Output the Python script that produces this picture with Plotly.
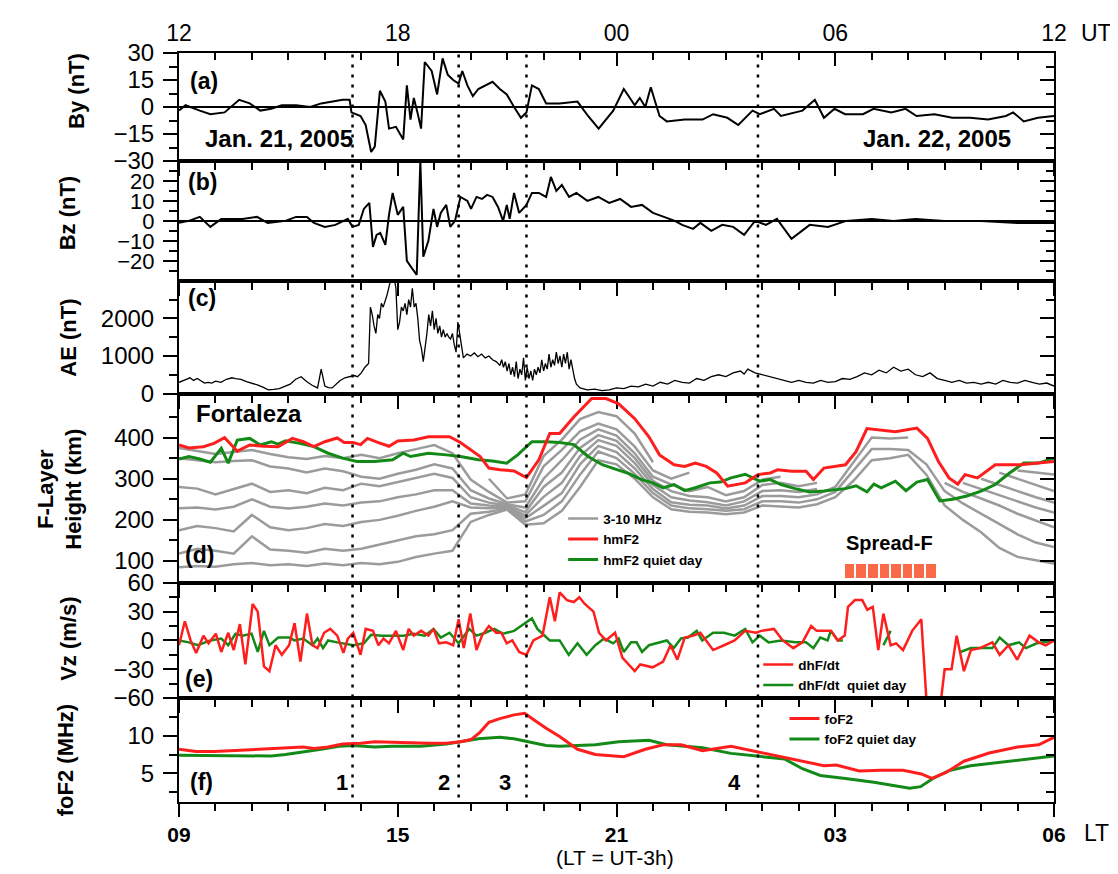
import plotly.graph_objects as go
from plotly.subplots import make_subplots

# ---------------- data (time in hours after 12 UT, Jan 21 2005) ----------------
BY_T = [0.00, 0.18, 0.57, 0.86, 1.25, 1.65, 1.94, 2.23, 2.53, 2.82,
        3.21, 3.60, 3.90, 4.19, 4.49, 4.68, 4.73, 4.98, 5.12, 5.27,
        5.37, 5.51, 5.66, 5.76, 5.95, 6.15, 6.25, 6.35, 6.44, 6.54,
        6.64, 6.74, 6.93, 7.08, 7.23, 7.37, 7.52, 7.67, 7.77, 7.91,
        8.06, 8.21, 8.40, 8.60, 8.80, 8.99, 9.19, 9.38, 9.53, 9.68,
        9.87, 10.07, 10.44, 10.93, 11.22, 11.51, 11.91, 12.20, 12.50, 12.64,
        12.79, 12.94, 13.18, 13.38, 13.87, 14.36, 14.65, 15.04, 15.34, 15.73,
        15.93, 16.32, 16.51, 17.10, 17.44, 17.69, 17.98, 18.27, 18.76, 19.05,
        19.54, 19.93, 20.23, 20.72, 21.21, 21.70, 22.19, 22.68, 22.88, 23.17,
        23.56, 24.00]
BY = [-2, 1, -2, -4, -3, 4, 2, -2, -1, 1,
      1, 0, 2, 3, 4, 4, -3, -5, -10, -25,
      -22, 9, 3, -12, -11, -18, 12, -7, 5, -3,
      -12, 25, 20, 7, 27, 18, 15, 13, 20, 12,
      6, 10, 12, 14, 10, 7, 0, -6, -3, 12,
      10, 2, 2, 3, -5, -12, -2, 10, 1, 5,
      0, 11, -5, -8, -7, -7, -4, -6, -10, -2,
      -4, -1, -5, -2, 4, -6, -1, -4, -4, -1,
      -3, -1, -5, -4, -6, -6, -7, -5, -3, -8,
      -6, -5]

BZ_T = [0.00, 0.27, 0.57, 0.86, 1.16, 1.45, 1.74, 2.14, 2.43, 2.92,
        3.21, 3.51, 3.70, 4.00, 4.29, 4.63, 4.76, 4.93, 5.07, 5.22,
        5.32, 5.42, 5.52, 5.66, 5.76, 5.86, 6.00, 6.15, 6.25, 6.40,
        6.52, 6.62, 6.70, 6.84, 6.98, 7.08, 7.18, 7.33, 7.44, 7.57,
        7.72, 7.91, 8.01, 8.16, 8.31, 8.45, 8.60, 8.75, 8.89, 8.99,
        9.07, 9.19, 9.33, 9.53, 9.68, 9.87, 10.07, 10.20, 10.35, 10.50,
        10.70, 10.90, 11.20, 11.50, 11.80, 12.10, 12.40, 12.70, 13.00, 13.30,
        13.60, 13.80, 14.10, 14.30, 14.60, 14.90, 15.20, 15.50, 15.80, 16.10,
        16.40, 16.80, 17.30, 17.80, 18.30, 19.00, 19.60, 20.20, 21.00, 22.00,
        23.00, 24.00]
BZ = [-1, 0, 2, -3, 1, 1, 1, 2, -1, 0,
      2, 2, -1, -3, -2, 1, -3, -2, 6, 9,
      -13, -7, -6, -12, 3, 14, 3, 7, -20, -24,
      -27, 30, -18, -10, 6, -3, 4, 8, -3, 0,
      12, 10, 6, 12, 11, 13, 12, 7, 0, 8,
      1, 14, 4, 8, 14, 14, 12, 22, 15, 18,
      12, 14, 10, 12, 9, 11, 7, 8, 4, 2,
      0, -2, -4, -1, -5, -2, -3, -7, 0, -2,
      1, -9, -2, -3, 0, 1, 0, 1, 0, 0,
      -1, -1]

AE_T = [0.00, 0.10, 0.20, 0.30, 0.40, 0.50, 0.60, 0.70, 0.80, 0.90,
        1.00, 1.15, 1.30, 1.45, 1.55, 1.70, 1.85, 2.00, 2.15, 2.30,
        2.45, 2.60, 2.75, 2.90, 3.05, 3.20, 3.35, 3.50, 3.65, 3.80,
        3.90, 4.00, 4.10, 4.20, 4.30, 4.35, 4.42, 4.55, 4.70, 4.80,
        4.90, 5.00, 5.10, 5.20, 5.25, 5.30, 5.35, 5.40, 5.45, 5.50,
        5.55, 5.60, 5.70, 5.80, 5.90, 5.95, 6.00, 6.05, 6.10, 6.15,
        6.20, 6.25, 6.30, 6.35, 6.40, 6.45, 6.50, 6.55, 6.60, 6.65,
        6.70, 6.75, 6.80, 6.85, 6.90, 6.95, 7.00, 7.05, 7.10, 7.15,
        7.20, 7.25, 7.30, 7.35, 7.40, 7.45, 7.50, 7.55, 7.60, 7.65,
        7.70, 7.75, 7.80, 7.90, 8.00, 8.10, 8.20, 8.30, 8.40, 8.50,
        8.60, 8.70, 8.80, 8.85, 8.90, 8.95, 9.00, 9.05, 9.10, 9.15,
        9.20, 9.25, 9.30, 9.35, 9.40, 9.45, 9.50, 9.55, 9.60, 9.65,
        9.70, 9.75, 9.80, 9.85, 9.90, 9.95, 10.00, 10.05, 10.10, 10.15,
        10.20, 10.25, 10.30, 10.35, 10.40, 10.45, 10.50, 10.55, 10.60, 10.65,
        10.70, 10.75, 10.80, 10.85, 10.90, 11.00, 11.20, 11.40, 11.60, 11.80,
        12.00, 12.20, 12.40, 12.60, 12.80, 13.00, 13.20, 13.40, 13.60, 13.80,
        14.00, 14.20, 14.40, 14.60, 14.80, 15.00, 15.20, 15.40, 15.50, 15.60,
        15.80, 16.00, 16.20, 16.40, 16.60, 16.80, 17.00, 17.20, 17.40, 17.60,
        17.80, 18.00, 18.20, 18.40, 18.60, 18.80, 19.00, 19.20, 19.40, 19.60,
        19.80, 20.00, 20.20, 20.40, 20.60, 20.80, 21.00, 21.20, 21.40, 21.60,
        21.80, 22.00, 22.20, 22.40, 22.60, 22.80, 23.00, 23.20, 23.40, 23.60,
        23.80, 24.00]
AE = [300, 330, 380, 420, 350, 400, 330, 280, 300, 280,
      330, 300, 380, 420, 400, 380, 320, 280, 230, 170,
      100, 110, 130, 190, 250, 380, 450, 320, 220, 150,
      650, 200, 160, 150, 250, 300, 350, 420, 450, 480,
      450, 550, 700, 800, 2300, 2100, 1800, 1600, 2100, 2000,
      2400, 2300, 2600, 3000, 3100, 2800, 1700, 1900, 2300, 2200,
      2400, 2100, 2500, 2300, 2800, 2300, 2400, 2000, 1400, 1200,
      850, 1200, 1600, 2100, 1800, 2200, 1700, 2000, 1600, 1800,
      1500, 1700, 1500, 1600, 1500, 1450, 1600, 1300, 1100, 1900,
      1600, 1200, 950, 1050, 1000, 1080, 980, 1050, 950, 1000,
      900, 850, 750, 900, 700, 850, 600, 800, 500, 700,
      450, 850, 400, 650, 500, 950, 350, 700, 400, 600,
      350, 650, 500, 700, 550, 900, 600, 800, 650, 1050,
      700, 900, 750, 1100, 800, 1000, 700, 1050, 800, 1100,
      650, 900, 600, 400, 250, 150, 100, 120, 80, 100,
      150, 130, 200, 180, 250, 200, 300, 250, 350, 300,
      280, 400, 350, 450, 500, 450, 550, 600, 520, 650,
      550, 500, 450, 400, 350, 300, 350, 300, 280, 350,
      300, 320, 400, 380, 450, 550, 500, 620, 550, 700,
      600, 650, 500, 450, 550, 400, 350, 300, 350, 280,
      300, 250, 300, 250, 350, 300, 280, 350, 300, 250,
      280, 200]

# isofrequency heights (3..10 MHz), half-hour grid
G_T = [0, 0.5, 1, 1.5, 2, 2.5, 3, 3.5, 4, 4.5,
       5, 5.5, 6, 6.5, 7, 7.5, 8, 8.5, 9, 9.5,
       10, 10.5, 11, 11.5, 12, 12.5, 13, 13.5, 14, 14.5,
       15, 15.5, 16, 16.5, 17, 17.5, 18, 18.5, 19, 19.5,
       20, 20.5, 21, 21.5, 22, 22.5, 23, 23.5, 24]
G3 = [85, 88, 86, 92, 95, 90, 92, 88, 94, 90,
      95, 92, 98, 110, 118, 125, 195, 212, 225, 188,
      192, 222, 280, 345, 335, 300, 255, 226, 220, 218,
      214, 218, 235, 232, 230, 238, 255, 295, 345, 350,
      358, 310, 235, 200, 170, 132, 110, 102, 94]
G4 = [118, 130, 125, 118, 160, 128, 125, 120, 130, 125,
      130, 140, 150, 160, 165, 175, 215, 220, 228, 196,
      212, 245, 310, 366, 350, 312, 265, 235, 228, 226,
      222, 226, 245, 245, 242, 250, 268, 320, 372, 372,
      370, 335, 270, 240, 215, 190, 165, 145, 134]
G5 = [175, 185, 180, 172, 212, 182, 175, 180, 190, 185,
      195, 200, 210, 222, 232, 245, 230, 228, 230, 204,
      234, 265, 335, 380, 365, 325, 275, 243, 237, 235,
      228, 235, 258, 258, 255, 262, 280, 340, 400, 398,
      400, None, 290, 268, 252, 235, 215, 198, 182]
G6 = [228, 230, 225, 232, 250, 232, 228, 232, 240, 235,
      242, 245, 255, 262, 272, 272, 240, 235, 232, 211,
      256, 290, 355, 394, 380, 338, 285, 255, 247, 243,
      235, 245, 270, 272, 268, 275, None, None, None, None,
      None, None, None, 290, 275, 260, 245, 230, 218]
G7 = [280, 276, 262, 275, 288, 268, 272, 265, 278, 272,
      288, 282, 292, 302, 312, 302, 255, 242, 235, 219,
      280, 315, 375, 406, 392, 350, 295, 270, 258, 255,
      245, 255, 285, 290, 282, 290, None, None, None, None,
      None, None, None, None, 300, 285, 270, 255, 242]
G8 = [350, 345, 340, 343, 345, 330, 325, 315, 325, 318,
      305, 300, 312, 322, 335, 325, 272, 252, 238, 230,
      300, 345, 395, 420, 405, 362, 305, 286, 270, 280,
      260, 270, 298, 305, None, None, None, None, None, None,
      None, None, None, None, None, 315, 300, 285, 270]
G9 = [375, 368, 360, 365, 370, 360, 352, 348, 355, 350,
      358, 350, 362, 372, 382, 362, 298, 268, 242, 245,
      330, 370, 415, 434, 420, 378, 320, 300, 315, None,
      None, None, None, None, None, None, None, None, None, None,
      None, None, None, None, None, None, 320, 315, 310]
G10 = [None, None, None, None, None, None, None, None, None, None,
       None, None, None, None, None, None, None, 300, 252, 262,
       355, 395, 445, 462, 452, 410, 340, None, None, None,
       None, None, None, None, None, None, None, None, None, None,
       None, None, None, None, None, None, None, None, None]

HM_T = [0.00, 0.27, 0.67, 0.96, 1.25, 1.60, 1.94, 2.33, 2.72, 3.11,
        3.41, 3.70, 4.00, 4.34, 4.53, 4.78, 4.98, 5.17, 5.47, 5.76,
        6.00, 6.44, 6.84, 7.42, 7.72, 8.01, 8.26, 8.50, 8.80, 9.19,
        9.53, 9.87, 10.17, 10.44, 10.83, 11.32, 11.71, 12.06, 12.50, 12.89,
        13.18, 13.58, 13.87, 14.16, 14.46, 14.75, 15.05, 15.53, 15.88, 16.22,
        16.42, 16.81, 17.20, 17.40, 17.69, 18.28, 18.57, 18.87, 19.26, 19.65,
        20.24, 20.53, 20.83, 21.12, 21.36, 21.56, 21.90, 22.39, 23.08, 23.57,
        24.00]
HM = [382, 375, 378, 386, 400, 367, 382, 379, 378, 398,
      390, 378, 390, 399, 388, 388, 383, 398, 388, 379,
      392, 394, 402, 402, 388, 370, 354, 326, 322, 319,
      303, 346, 410, 410, 450, 495, 495, 482, 446, 402,
      358, 334, 330, 338, 330, 314, 282, 290, 310, 314,
      322, 318, 318, 298, 326, 334, 366, 422, 418, 414,
      423, 398, 342, 302, 287, 310, 302, 334, 334, 338,
      342]

HQ_T = [0.00, 0.27, 0.57, 0.86, 1.16, 1.35, 1.60, 1.94, 2.23, 2.53,
        2.72, 2.92, 3.31, 3.70, 4.09, 4.49, 4.88, 5.37, 5.86, 6.15,
        6.35, 6.84, 7.33, 7.72, 8.21, 8.60, 8.99, 9.29, 9.68, 10.07,
        10.44, 10.83, 11.22, 11.61, 12.01, 12.30, 12.69, 12.99, 13.28, 13.58,
        13.87, 14.16, 14.56, 14.85, 15.14, 15.53, 15.93, 16.22, 16.51, 16.90,
        17.30, 17.69, 18.28, 18.57, 18.87, 19.06, 19.26, 19.65, 19.94, 20.24,
        20.53, 20.87, 21.22, 21.61, 22.00, 22.39, 22.78, 23.17, 23.57, 24.00]
HQ = [348, 354, 348, 340, 374, 338, 394, 398, 382, 390,
      384, 392, 386, 378, 362, 350, 342, 342, 346, 362,
      354, 362, 358, 354, 346, 343, 338, 358, 390, 390,
      388, 383, 354, 334, 322, 314, 298, 290, 278, 286,
      271, 278, 290, 292, 302, 311, 294, 298, 286, 276,
      268, 270, 276, 283, 268, 287, 278, 294, 271, 292,
      298, 246, 250, 258, 270, 286, 314, 338, 338, 350]

SF_T = [18.39, 18.71, 19.03, 19.35, 19.66, 19.98, 20.30, 20.62]
SF_H = [33, 33, 33, 33, 33, 33, 33, 33]
SF_BASE = 60

VZ_T = [0.00, 0.16, 0.32, 0.47, 0.67, 0.81, 1.01, 1.16, 1.35, 1.50,
        1.67, 1.82, 2.02, 2.16, 2.33, 2.48, 2.65, 2.82, 3.02, 3.17,
        3.33, 3.51, 3.66, 3.80, 3.98, 4.15, 4.34, 4.51, 4.63, 4.78,
        4.98, 5.12, 5.32, 5.47, 5.61, 5.76, 5.95, 6.15, 6.30, 6.44,
        6.64, 6.84, 6.98, 7.13, 7.33, 7.52, 7.67, 7.81, 7.99, 8.16,
        8.31, 8.50, 8.70, 8.84, 8.99, 9.14, 9.33, 9.53, 9.72, 9.97,
        10.17, 10.31, 10.44, 10.64, 10.83, 10.98, 11.13, 11.37, 11.52, 11.71,
        11.96, 12.16, 12.50, 12.65, 12.99, 13.28, 13.48, 13.67, 13.87, 14.11,
        14.30, 14.65, 14.95, 15.24, 15.53, 15.83, 15.97, 16.32, 16.56, 16.85,
        17.10, 17.34, 17.49, 17.88, 18.07, 18.26, 18.35, 18.54, 18.74, 18.88,
        19.03, 19.18, 19.32, 19.52, 19.67, 19.86, 20.11, 20.36, 20.60, 20.72,
        21.00, 21.19, 21.33, 21.53, 21.72, 21.97, 22.31, 22.51, 22.75, 22.99,
        23.33, 23.58, 23.77, 24.00]
VZ = [-5, 20, 0, -13, 5, -3, 7, -12, 8, -10,
      17, -25, 38, 30, -27, -32, -5, -15, -5, 18,
      -22, 28, -5, -8, 8, 12, 5, -13, 2, 8,
      -15, 12, 10, -5, 2, -3, 10, -10, 12, 5,
      10, 5, 12, -3, -2, -5, 22, -8, 28, -10,
      5, 15, 8, 8, -3, 0, -12, -15, 0, 5,
      45, 20, 50, 42, 40, 45, 38, 30, 8, 0,
      8, -18, -32, -25, -28, -22, -5, -20, 3, 5,
      8, -10, -5, 0, 10, 8, 10, 12, 0, -8,
      -2, 15, 10, 10, 0, 5, 35, 42, 42, 32,
      35, -10, 28, -5, -3, -10, 10, 22, -120, -120,
      -30, -30, 5, -32, -10, -8, -2, -15, -5, -20,
      5, -2, -5, 0]

VZQ_T = [0.00, 0.27, 0.52, 0.86, 1.16, 1.35, 1.55, 1.74, 1.99, 2.16,
         2.33, 2.48, 2.72, 3.02, 3.17, 3.41, 3.66, 3.80, 3.95, 4.09,
         4.34, 4.49, 4.78, 5.07, 5.27, 5.56, 5.86, 6.15, 6.44, 6.74,
         6.98, 7.18, 7.42, 7.67, 7.96, 8.16, 8.40, 8.65, 8.89, 9.19,
         9.38, 9.68, 9.83, 10.17, 10.44, 10.69, 10.93, 11.18, 11.42, 11.66,
         11.91, 12.06, 12.20, 12.40, 12.55, 12.70, 12.89, 13.09, 13.38, 13.57,
         13.77, 13.96, 14.20, 14.35, 14.65, 14.95, 15.24, 15.53, 15.73, 15.93,
         16.17, 16.51, 16.90, 17.20, 17.40, 17.59, 17.79, 17.88, 18.07, 18.21,
         18.30, 19.32, 19.52, 19.60, 21.43, 21.72, 22.31, 22.51, 22.75, 23.04,
         23.23, 23.53, 24.00]
VZQ = [0, -2, -5, 0, 2, -5, 7, 5, 7, -12,
       10, -5, 3, 3, 0, 2, -5, 2, -8, 0,
       -2, -3, -5, -3, 6, 5, 5, 5, 7, 5,
       12, 3, 8, -3, 12, 5, 8, 12, 7, 10,
       15, 23, 12, 0, 0, -15, -3, -15, -5, 2,
       -3, 2, -12, -2, -2, -12, -5, -3, 0, -8,
       2, 3, 10, 0, 8, 8, 5, 12, -2, 5,
       -2, 0, -2, -2, -8, 3, 0, 10, 0, 0,
       None, -5, 10, None, -12, -8, -8, 3, -5, -2,
       -8, -3, 0]

F_T = [0.00, 0.47, 0.96, 1.45, 1.94, 2.43, 2.92, 3.41, 3.70, 4.09,
       4.49, 4.98, 5.37, 5.86, 6.35, 6.84, 7.33, 7.72, 8.01, 8.26,
       8.50, 8.80, 9.19, 9.48, 9.77, 10.07, 10.44, 10.93, 11.42, 12.20,
       12.79, 13.28, 13.77, 14.36, 15.14, 15.73, 16.32, 17.10, 17.69, 18.03,
       18.66, 19.25, 19.86, 20.36, 20.65, 21.04, 21.53, 22.22, 23.00, 23.58,
       24.00]
F = [8.2, 7.9, 7.9, 8.0, 8.1, 8.2, 8.4, 8.5, 8.3, 8.5,
     8.9, 9.0, 9.2, 9.1, 9.1, 9.0, 9.0, 9.2, 9.5, 10.5,
     11.8, 12.3, 12.8, 13.0, 12.0, 11.0, 9.9, 8.2, 7.5, 7.2,
     8.2, 8.8, 8.8, 8.0, 8.6, 8.0, 7.4, 6.6, 6.0, 6.1,
     5.3, 5.4, 5.4, 4.9, 4.3, 5.1, 6.6, 7.7, 8.5, 8.8,
     9.8]

FQ_T = [0.00, 0.96, 1.94, 2.53, 2.92, 3.41, 3.90, 4.39, 4.78, 5.37,
        5.86, 6.64, 7.33, 7.72, 8.21, 8.80, 9.19, 9.58, 10.07, 10.44,
        11.42, 12.06, 12.89, 13.38, 14.36, 15.14, 15.88, 16.61, 17.10, 17.59,
        18.28, 19.06, 20.04, 20.34, 20.68, 21.12, 21.71, 22.39, 23.17, 24.00]
FQ = [7.4, 7.35, 7.3, 7.3, 7.5, 7.8, 8.2, 8.6, 8.7, 8.5,
      8.6, 8.6, 8.9, 9.2, 9.6, 9.8, 9.6, 9.2, 8.7, 8.6,
      8.8, 9.2, 9.4, 8.8, 8.4, 7.65, 7.3, 6.9, 5.6, 4.7,
      4.3, 3.8, 3.0, 3.2, 4.3, 5.35, 6.0, 6.4, 6.9, 7.3]

DOTTED_T = [4.76, 7.67, 9.53, 15.88]
EVENT_LABELS = ["1", "2", "3", "4"]
EVENT_LABEL_T = [4.47, 7.28, 8.94, 15.24]

X_MAJOR = [0, 6, 12, 18, 24]
X_MINOR = [h for h in range(25) if h % 6 != 0]
UT_LABELS = ["12", "18", "00", "06", "12"]
LT_LABELS = ["09", "15", "21", "03", "06"]

# ---------------- style ----------------
FONT = "Liberation Sans"
RED = "#FF1E1E"
GREEN = "#138A17"
GRAY = "#9B9B9B"
SFCOL = "#FA6A48"

# page plot-area (the html body adds an 8 px offset)
PX_L, PX_R, PX_T, PX_B = 179.3, 1054.3, 43.3, 802.0
PW, PH = PX_R - PX_L, PX_B - PX_T

def px2paper_x(x):
    return (x - PX_L) / PW

def px2paper_y(y):
    return (PX_B - y) / PH

fig = make_subplots(rows=6, cols=1, shared_xaxes=True, vertical_spacing=0)

fig.add_trace(go.Scatter(x=BY_T, y=BY, mode="lines", line=dict(color="black", width=2),
                         showlegend=False, hoverinfo="skip"), row=1, col=1)
fig.add_trace(go.Scatter(x=BZ_T, y=BZ, mode="lines", line=dict(color="black", width=2),
                         showlegend=False, hoverinfo="skip"), row=2, col=1)
fig.add_trace(go.Scatter(x=AE_T, y=AE, mode="lines", line=dict(color="black", width=1.3),
                         showlegend=False, hoverinfo="skip"), row=3, col=1)

for i, g in enumerate([G3, G4, G5, G6, G7, G8, G9, G10]):
    fig.add_trace(go.Scatter(x=G_T, y=g, mode="lines", line=dict(color=GRAY, width=2.5),
                             name="<b>3-10 MHz</b>", showlegend=(i == 0), legend="legend",
                             legendrank=1, connectgaps=False, hoverinfo="skip"), row=4, col=1)
fig.add_trace(go.Bar(x=SF_T, y=SF_H, base=SF_BASE, width=0.27, marker=dict(color=SFCOL, line=dict(width=0)),
                     showlegend=False, hoverinfo="skip"), row=4, col=1)
fig.add_trace(go.Scatter(x=HQ_T, y=HQ, mode="lines", line=dict(color=GREEN, width=3),
                         name="<b>hmF2 quiet day</b>", legend="legend", legendrank=3), row=4, col=1)
fig.add_trace(go.Scatter(x=HM_T, y=HM, mode="lines", line=dict(color=RED, width=3),
                         name="<b>hmF2</b>", legend="legend", legendrank=2), row=4, col=1)

fig.add_trace(go.Scatter(x=VZQ_T, y=VZQ, mode="lines", line=dict(color=GREEN, width=2.5),
                         name="<b>dhF/dt  quiet day</b>", legend="legend2", legendrank=2,
                         connectgaps=False), row=5, col=1)
fig.add_trace(go.Scatter(x=VZ_T, y=VZ, mode="lines", line=dict(color=RED, width=2.5),
                         name="<b>dhF/dt</b>", legend="legend2", legendrank=1), row=5, col=1)

fig.add_trace(go.Scatter(x=FQ_T, y=FQ, mode="lines", line=dict(color=GREEN, width=3),
                         name="<b>foF2 quiet day</b>", legend="legend3", legendrank=2), row=6, col=1)
fig.add_trace(go.Scatter(x=F_T, y=F, mode="lines", line=dict(color=RED, width=3),
                         name="<b>foF2</b>", legend="legend3", legendrank=1), row=6, col=1)

# ---------------- axes ----------------
DOMS = [[0.8558, 1.0], [0.6959, 0.8558], [0.5453, 0.6959],
        [0.2926, 0.5453], [0.1388, 0.2926], [0.0, 0.1388]]
YR = [[-30, 30], [-30, 30], [0, 3000], [47, 507], [-60, 60], [1.15, 15.05]]
YMAJ = [[-30, -15, 0, 15, 30], [-20, -10, 0, 10, 20], [0, 1000, 2000],
        [100, 200, 300, 400], [-60, -30, 0, 30, 60], [5, 10]]
YMIN = [[-22.5, -7.5, 7.5, 22.5], [-25, -15, -5, 5, 15, 25], [500, 1500, 2500],
        [150, 250, 350, 450], [-45, -15, 15, 45], [2.5, 7.5, 12.5]]
YFONT = [24, 22, 24, 24, 24, 24]

layout = {}
for k in range(1, 7):
    xs = "xaxis" if k == 1 else f"xaxis{k}"
    ys = "yaxis" if k == 1 else f"yaxis{k}"
    layout[xs] = dict(range=[0, 24], showline=True, linewidth=2, linecolor="black", mirror=True,
                      ticks="outside", tickmode="array", tickvals=X_MAJOR, ticklen=13, tickwidth=2,
                      tickcolor="black", showgrid=False, zeroline=False,
                      minor=dict(tickmode="array", tickvals=X_MINOR, ticklen=7, tickwidth=2,
                                 ticks="outside", tickcolor="black", showgrid=False),
                      showticklabels=(k == 6))
    layout[ys] = dict(domain=DOMS[k - 1], range=YR[k - 1], showline=True, linewidth=2,
                      linecolor="black", mirror=True, ticks="outside", tickmode="array",
                      tickvals=YMAJ[k - 1], ticklen=14, tickwidth=2, tickcolor="black",
                      showgrid=False, zeroline=(k in (1, 2)), zerolinecolor="black",
                      zerolinewidth=2, ticklabelstandoff=4,
                      tickfont=dict(family=FONT, size=YFONT[k - 1], color="black"),
                      minor=dict(tickmode="array", tickvals=YMIN[k - 1], ticklen=8, tickwidth=2,
                                 ticks="outside", tickcolor="black", showgrid=False))
    # right-hand inward ticks
    layout[f"yaxis{6 + k}"] = dict(overlaying=("y" if k == 1 else f"y{k}"), side="right",
                                   anchor=("x" if k == 1 else f"x{k}"), range=YR[k - 1],
                                   ticks="inside", tickmode="array", tickvals=YMAJ[k - 1],
                                   ticklen=14, tickwidth=2, tickcolor="black",
                                   showticklabels=False, showline=False, showgrid=False,
                                   zeroline=False,
                                   minor=dict(tickmode="array", tickvals=YMIN[k - 1], ticklen=8,
                                              tickwidth=2, ticks="inside", tickcolor="black",
                                              showgrid=False))
    fig.add_trace(go.Scatter(x=[], y=[], xaxis=("x" if k == 1 else f"x{k}"), yaxis=f"y{6 + k}",
                             showlegend=False, hoverinfo="skip"))

layout["xaxis6"].update(ticktext=[f"<b>{s}</b>" for s in LT_LABELS],
                        tickfont=dict(family=FONT, size=21, color="black"), ticklabelstandoff=0)
layout["xaxis7"] = dict(overlaying="x", side="top", anchor="y", range=[0, 24], ticks="inside",
                        tickmode="array", tickvals=X_MAJOR, ticktext=UT_LABELS, ticklen=13,
                        tickwidth=2, tickcolor="black", showline=False, showgrid=False,
                        zeroline=False, tickfont=dict(family=FONT, size=23, color="black"),
                        ticklabelstandoff=6,
                        minor=dict(tickmode="array", tickvals=X_MINOR, ticklen=7, tickwidth=2,
                                   ticks="inside", tickcolor="black", showgrid=False))
fig.add_trace(go.Scatter(x=[], y=[], xaxis="x7", yaxis="y", showlegend=False, hoverinfo="skip"))

legend_common = dict(xanchor="left", yanchor="top", bgcolor="rgba(0,0,0,0)",
                     font=dict(family=FONT, size=13.5, color="black"), itemwidth=30,
                     tracegroupgap=0, traceorder="normal")
layout["legend"] = dict(x=0.439, y=0.399, **legend_common)
layout["legend2"] = dict(x=0.662, y=0.204, **legend_common)
layout["legend3"] = dict(x=0.692, y=0.132, **legend_common)

fig.update_layout(**layout)
fig.update_layout(width=1110, height=866, margin=dict(l=171, r=64, t=35, b=72),
                  paper_bgcolor="white", plot_bgcolor="white", showlegend=True,
                  font=dict(family=FONT, color="black"), bargap=0)

# dotted event lines
for t in DOTTED_T:
    fig.add_shape(type="line", xref="x", yref="paper", x0=t, x1=t, y0=0.006, y1=1.0,
                  line=dict(color="black", width=2.5, dash="3px,7px"))

def ann(text, x, y, xref, yref, xanchor="left", size=23, **kw):
    fig.add_annotation(text=text, x=x, y=y, xref=xref, yref=yref, xanchor=xanchor,
                       yanchor="middle", showarrow=False,
                       font=dict(family=FONT, size=size, color="black"), **kw)

ann("<b>(a)</b>", 0.24, 14.3, "x", "y")
ann("<b>(b)</b>", 0.20, 19.7, "x2", "y2")
ann("<b>(c)</b>", 0.18, 2530, "x3", "y3")
ann("<b>(d)</b>", 0.10, 115, "x4", "y4")
ann("<b>(e)</b>", 0.10, -40, "x5", "y5")
ann("<b>(f)</b>", 0.24, 3.8, "x6", "y6")
ann("<b>Jan. 21, 2005</b>", 0.67, -17.5, "x", "y", size=24)
ann("<b>Jan. 22, 2005</b>", 22.88, -17.5, "x", "y", xanchor="right", size=24)
ann("<b>Fortaleza</b>", 0.42, 459, "x4", "y4", size=24)
ann("<b>Spread-F</b>", 19.5, 144, "x4", "y4", xanchor="center", size=20)
for lab, t in zip(EVENT_LABELS, EVENT_LABEL_T):
    ann(f"<b>{lab}</b>", t, 3.8, "x6", "y6", xanchor="center", size=22)

# axis titles
def ytitle(text, xpx, ypx):
    fig.add_annotation(text=text, x=px2paper_x(xpx), y=px2paper_y(ypx), xref="paper",
                       yref="paper", textangle=-90, showarrow=False, xanchor="center",
                       yanchor="middle", font=dict(family=FONT, size=22, color="black"))

ytitle("<b>By (nT)</b>", 77, 82)
ytitle("<b>Bz (nT)</b>", 68, 205)
ytitle("<b>AE (nT)</b>", 68, 332)
ytitle("<b>F-Layer<br>Height (km)</b>", 60, 485)
ytitle("<b>Vz (m/s)</b>", 68, 637)
ytitle("<b>foF2 (MHz)</b>", 66, 760)

plain = dict(family=FONT, size=23, color="black")
fig.add_annotation(text="UT", x=px2paper_x(1097), y=px2paper_y(23), xref="paper", yref="paper",
                   showarrow=False, xanchor="center", yanchor="middle", font=plain)
fig.add_annotation(text="LT", x=px2paper_x(1097), y=px2paper_y(833), xref="paper", yref="paper",
                   showarrow=False, xanchor="center", yanchor="middle", font=plain)
fig.add_annotation(text="(LT = UT-3h)", x=px2paper_x(615), y=px2paper_y(858), xref="paper",
                   yref="paper", showarrow=False, xanchor="center", yanchor="middle",
                   font=dict(family=FONT, size=21, color="black"))

fig.write_html("out.html")
